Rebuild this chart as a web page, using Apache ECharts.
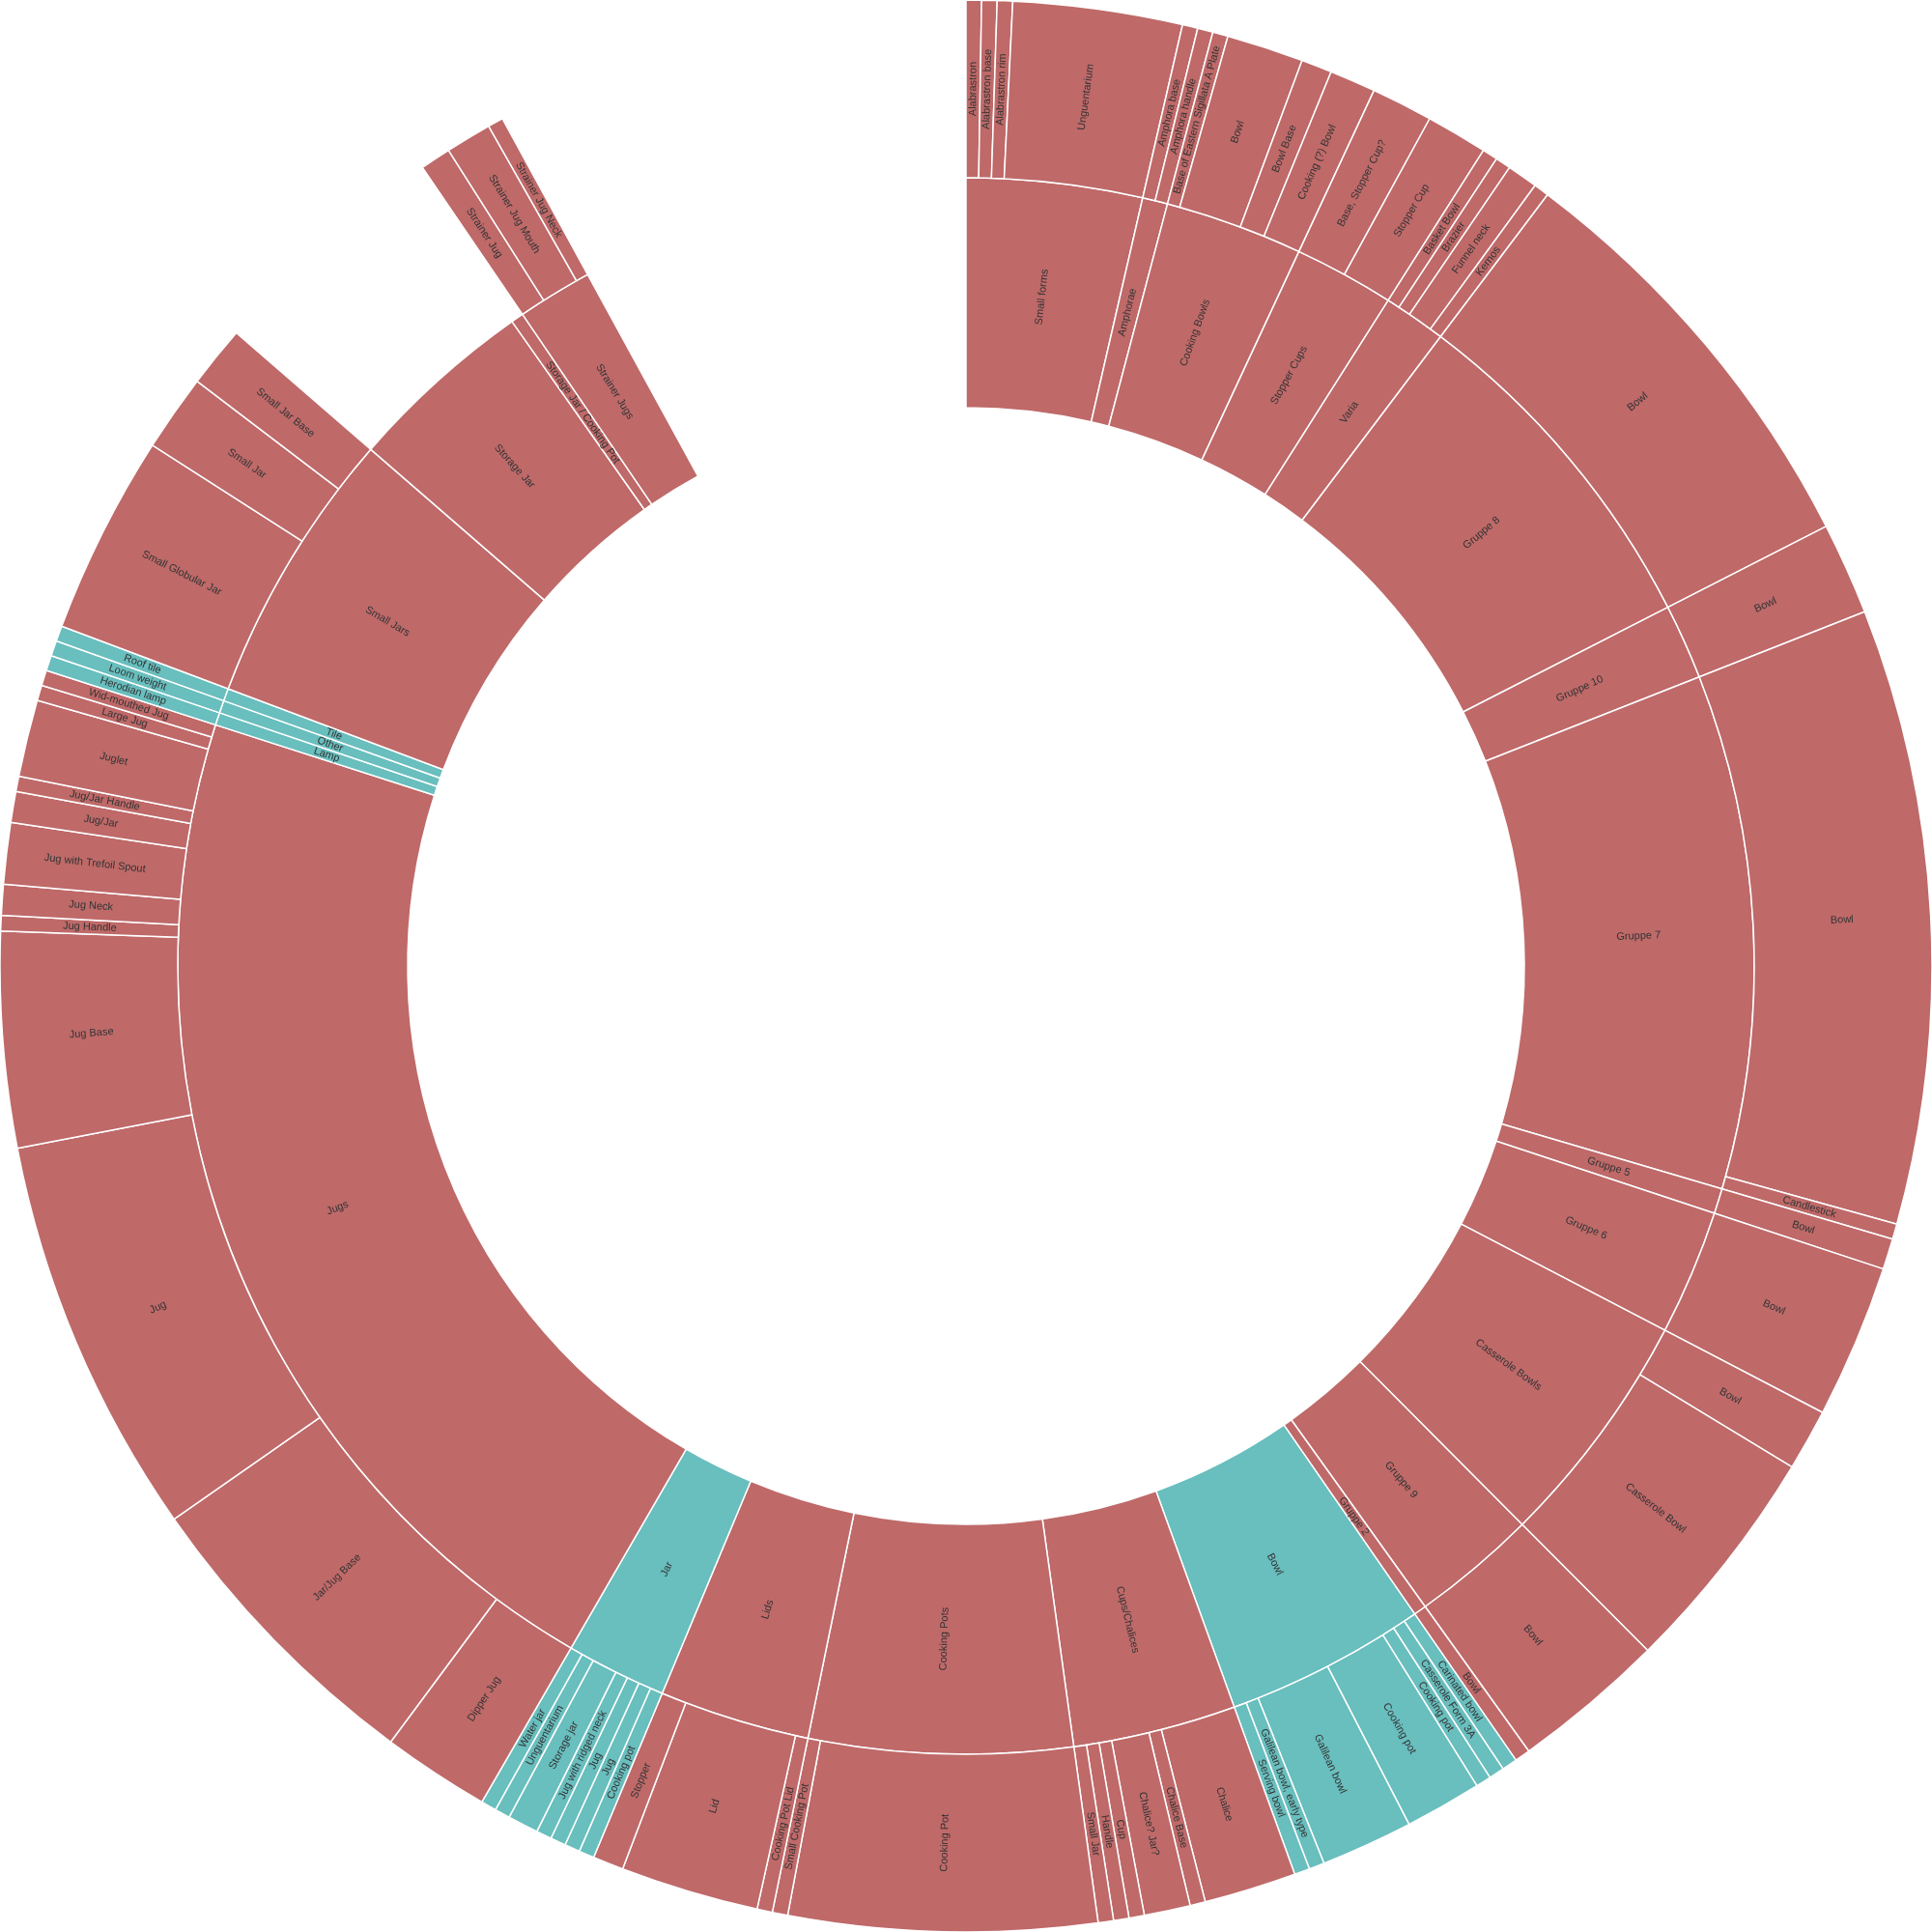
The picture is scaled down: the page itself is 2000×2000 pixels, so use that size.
<!DOCTYPE html>
<html>
<head>
<meta charset="utf-8">
<script src="https://cdn.jsdelivr.net/npm/echarts@6/dist/echarts.min.js"></script>
<style>
  html, body { margin: 0; padding: 0; background: #fff; }
  #chart { width: 2000px; height: 2000px; }
</style>
</head>
<body>
<div id="chart"></div>
<script>
// inner ring, clockwise from the top
const groups = [
    'Small forms', 'Amphorae', 'Cooking Bowls', 'Stopper Cups', 'Varia',
    'Gruppe 8', 'Gruppe 10', 'Gruppe 7', 'Gruppe 5', 'Gruppe 6',
    'Casserole Bowls', 'Gruppe 9', 'Gruppe 2', 'Bowl', 'Cups/Chalices',
    'Cooking Pots', 'Lids', 'Jar', 'Jugs', 'Lamp', 'Other', 'Tile',
    'Small Jars', 'Storage Jar', 'Storage Jar / Cooking Pot', 'Strainer Jugs'
]
const groupValues = [
    14, 2, 11, 8, 5,
    28, 6, 41, 2, 10,
    19, 10, 1, 16, 13,
    21, 12, 8, 84, 1, 1, 1,
    22, 15, 1, 6
]

// outer ring, one list per group
const childNames = [
    ['Alabrastron', 'Alabrastron base', 'Alabrastron rim', 'Unguentarium'],
    ['Amphora base', 'Amphora handle'],
    ['Base of Eastern Sigillata A Plate', 'Bowl', 'Bowl Base', 'Cooking (?) Bowl'],
    ['Base, Stopper Cup?', 'Stopper Cup'],
    ['Basket Bowl', 'Brazier', 'Funnel neck', 'Kernos'],
    ['Bowl'],
    ['Bowl'],
    ['Bowl', 'Candlestick'],
    ['Bowl'],
    ['Bowl'],
    ['Bowl', 'Casserole Bowl'],
    ['Bowl'],
    ['Bowl'],
    ['Carinated bowl', 'Casserole Form 3A', 'Cooking pot', 'Cooking pot', 'Galilean bowl', 'Galilean bowl, early type', 'Serving bowl'],
    ['Chalice', 'Chalice Base', 'Chalice? Jar?', 'Cup', 'Handle', 'Small Jar'],
    ['Cooking Pot', 'Small Cooking Pot'],
    ['Cooking Pot Lid', 'Lid', 'Stopper'],
    ['Cooking pot', 'Jug', 'Jug', 'Jug with ridged neck', 'Storage jar', 'Unguentarium', 'Water jar'],
    ['Dipper Jug', 'Jar/Jug Base', 'Jug', 'Jug Base', 'Jug Handle', 'Jug Neck', 'Jug with Trefoil Spout', 'Jug/Jar', 'Jug/Jar Handle', 'Juglet', 'Large Jug', 'Wid-mouthed Jug'],
    ['Herodian lamp'],
    ['Loom weight'],
    ['Roof tile'],
    ['Small Globular Jar', 'Small Jar', 'Small Jar Base'],
    [],
    [],
    ['Strainer Jug', 'Strainer Jug Mouth', 'Strainer Jug Neck']
]
const childValues = [
    [1, 1, 1, 11],
    [1, 1],
    [1, 5, 2, 3],
    [4, 4],
    [1, 1, 2, 1],
    [28],
    [6],
    [40, 1],
    [2],
    [10],
    [4, 15],
    [10],
    [1],
    [1, 1, 1, 5, 6, 1, 1],
    [6, 1, 3, 1, 1, 1],
    [20, 1],
    [1, 9, 2],
    [1, 1, 1, 1, 2, 1, 1],
    [7, 20, 26, 14, 1, 2, 4, 2, 1, 5, 1, 1],
    [1],
    [1],
    [1],
    [13, 5, 4],
    [],
    [],
    [2, 3, 1]
]

// part of the total that has no group (left blank at the top)
const unassigned = 31

const tealGroups = ['Bowl', 'Jar', 'Lamp', 'Other', 'Tile']

const RED = '#bf6969'
const TEAL = '#69bebe'

const data = groups.map((name, i) => {
    const color = tealGroups.includes(name) ? TEAL : RED
    return {
        name: name,
        value: groupValues[i],
        itemStyle: { color: color },
        children: childNames[i].map((c, j) => ({
            name: c,
            value: childValues[i][j],
            itemStyle: { color: color }
        }))
    }
})

data.push({
    name: '',
    value: unassigned,
    itemStyle: { color: 'rgba(0,0,0,0)', borderWidth: 0 },
    label: { show: false },
    emphasis: { disabled: true }
})

const chart = echarts.init(document.getElementById('chart'), null, { renderer: 'canvas' })

chart.setOption({
    animation: false,
    backgroundColor: '#fff',
    series: [{
        type: 'sunburst',
        center: ['50%', '50%'],
        sort: null,
        startAngle: 90,
        clockwise: true,
        nodeClick: false,
        data: data,
        itemStyle: {
            borderColor: '#fff',
            borderWidth: 1.5
        },
        label: {
            rotate: 'radial',
            color: '#333',
            fontSize: 11,
            fontFamily: 'Liberation Sans, Arial, sans-serif'
        },
        levels: [
            {},
            { r0: 578, r: 816 },
            { r0: 816, r: 1000 }
        ]
    }]
})
</script>
</body>
</html>
